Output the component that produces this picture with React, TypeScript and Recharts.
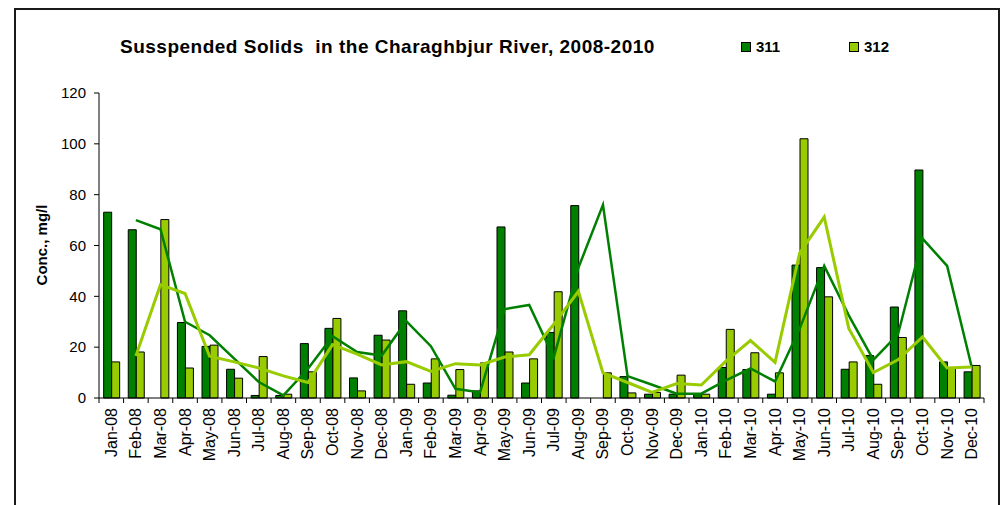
import { ComposedChart, Bar, Line, XAxis, YAxis } from "recharts";

const months = [
  "Jan-08", "Feb-08", "Mar-08", "Apr-08", "May-08", "Jun-08", "Jul-08", "Aug-08", "Sep-08", "Oct-08", "Nov-08", "Dec-08",
  "Jan-09", "Feb-09", "Mar-09", "Apr-09", "May-09", "Jun-09", "Jul-09", "Aug-09", "Sep-09", "Oct-09", "Nov-09", "Dec-09",
  "Jan-10", "Feb-10", "Mar-10", "Apr-10", "May-10", "Jun-10", "Jul-10", "Aug-10", "Sep-10", "Oct-10", "Nov-10", "Dec-10",
];

// station 311 / 312 concentrations, mg/l (null = no sample)
const s311 = [
  73.1, 66.2, null, 29.7, 20.3, 11.3, 1.0, 1.0, 21.4, 27.4, 7.9, 24.7,
  34.3, 5.9, 1.1, 2.8, 67.3, 5.9, 25.8, 75.7, null, 8.4, 1.5, 1.5,
  1.5, 12.0, 11.2, 1.5, 52.3, 51.3, 11.3, 16.7, 35.8, 89.7, 14.2, 10.3,
];
const s312 = [
  14.2, 18.1, 70.2, 11.8, 20.8, 7.8, 16.3, 1.5, 10.3, 31.3, 2.8, 22.8,
  5.4, 15.4, 11.2, 13.8, 18.1, 15.4, 41.8, null, 9.9, 2.0, 2.2, 9.0,
  1.5, 27.0, 17.8, 9.9, 102.0, 39.8, 14.2, 5.4, 23.8, null, 11.6, 12.8,
];

// trend lines as drawn on the chart
const trend311 = [
  null, 70.0, 66.4, 30.0, 24.7, 15.5, 6.3, 1.0, 11.5, 24.3, 18.1, 16.7,
  30.2, 20.4, 3.6, 2.2, 35.0, 36.6, 16.0, 51.2, 76.0, 8.6, 5.2, 1.7,
  1.7, 6.9, 11.6, 6.5, 27.2, 52.0, 32.5, 15.0, 25.0, 62.7, 52.0, 12.2,
];
const trend312 = [
  null, 16.5, 44.6, 41.1, 16.4, 14.2, 11.8, 8.7, 6.1, 21.0, 17.3, 13.0,
  14.3, 10.5, 13.5, 13.0, 16.1, 17.0, 29.0, 42.0, 9.9, 6.1, 2.2, 5.7,
  5.1, 14.5, 22.6, 14.0, 57.0, 71.2, 27.4, 10.0, 15.0, 24.0, 11.8, 12.2,
];

const yTicks = [0, 20, 40, 60, 80, 100, 120];

const DARK = "#008000";
const LIGHT = "#99CC00";
const FONT = "'Liberation Sans', Arial, sans-serif";

const W = 1001;
const H = 505;
const PLOT_LEFT = 99;
const PLOT_RIGHT = 984;
const BAND = (PLOT_RIGHT - PLOT_LEFT) / months.length;

const data = months.map((m, i) => ({
  month: m,
  s311: s311[i],
  s312: s312[i],
  t311: trend311[i],
  t312: trend312[i],
}));

function MonthTick(props: any) {
  const { x, y, payload, index } = props;
  const half = BAND / 2;
  return (
    <g>
      <line x1={x - half} x2={x - half} y1={y} y2={y + 5} stroke="#000" />
      {index === months.length - 1 && (
        <line x1={x + half} x2={x + half} y1={y} y2={y + 5} stroke="#000" />
      )}
      <text
        transform={`translate(${x + 5.5},${y + 10}) rotate(-90)`}
        textAnchor="end"
        fontSize={16}
        fontFamily={FONT}
        fill="#000"
      >
        {payload.value}
      </text>
    </g>
  );
}

function LegendItem({ color, label, left }: { color: string; label: string; left: number }) {
  return (
    <div style={{ position: "absolute", left, top: 39, display: "flex", alignItems: "center" }}>
      <div style={{ width: 8, height: 8, background: color, border: "1px solid #000", marginRight: 5 }} />
      <span style={{ fontFamily: FONT, fontWeight: "bold", fontSize: 15, lineHeight: "16px" }}>{label}</span>
    </div>
  );
}

export default function App() {
  return (
    <div style={{ position: "absolute", left: 0, top: 0, width: W, height: H, overflow: "hidden", background: "#fff" }}>
      <div
        style={{
          position: "absolute",
          left: 14,
          top: 8,
          width: 986,
          height: 520,
          border: "2px solid #1a1a1a",
          boxSizing: "border-box",
        }}
      />
      <div
        style={{
          position: "absolute",
          left: 120,
          top: 36,
          fontFamily: FONT,
          fontWeight: "bold",
          fontSize: 19,
          letterSpacing: 0.5,
          whiteSpace: "pre",
        }}
      >
        {"Susspended Solids  in the Charaghbjur River, 2008-2010"}
      </div>
      <LegendItem color={DARK} label="311" left={741} />
      <LegendItem color={LIGHT} label="312" left={849} />
      <div
        style={{
          position: "absolute",
          left: 41,
          top: 245,
          transform: "translate(-50%, -50%) rotate(-90deg)",
          fontFamily: FONT,
          fontWeight: "bold",
          fontSize: 15,
          whiteSpace: "nowrap",
        }}
      >
        Conc., mg/l
      </div>
      <div style={{ position: "absolute", left: 0, top: 0 }}>
        <ComposedChart
          width={W}
          height={H}
          data={data}
          margin={{ top: 93, right: W - PLOT_RIGHT, bottom: 27, left: 39 }}
          barCategoryGap="19%"
          barGap={0}
        >
          <XAxis
            dataKey="month"
            interval={0}
            tickSize={0}
            tickMargin={0}
            tickLine={false}
            axisLine={{ stroke: "#000" }}
            height={80}
            tick={<MonthTick />}
          />
          <YAxis
            width={60}
            domain={[0, 120]}
            ticks={yTicks}
            tickSize={5}
            tickMargin={8}
            axisLine={{ stroke: "#000" }}
            tickLine={{ stroke: "#000" }}
            tick={{ fontSize: 15, fill: "#000", fontFamily: FONT }}
          />
          <Bar dataKey="s311" name="311" fill={DARK} stroke="#000" strokeWidth={1} isAnimationActive={false} />
          <Bar dataKey="s312" name="312" fill={LIGHT} stroke="#000" strokeWidth={1} isAnimationActive={false} />
          <Line
            type="linear"
            dataKey="t311"
            stroke={DARK}
            strokeWidth={2.5}
            dot={false}
            activeDot={false}
            legendType="none"
            isAnimationActive={false}
          />
          <Line
            type="linear"
            dataKey="t312"
            stroke={LIGHT}
            strokeWidth={3}
            dot={false}
            activeDot={false}
            legendType="none"
            isAnimationActive={false}
          />
        </ComposedChart>
      </div>
    </div>
  );
}
